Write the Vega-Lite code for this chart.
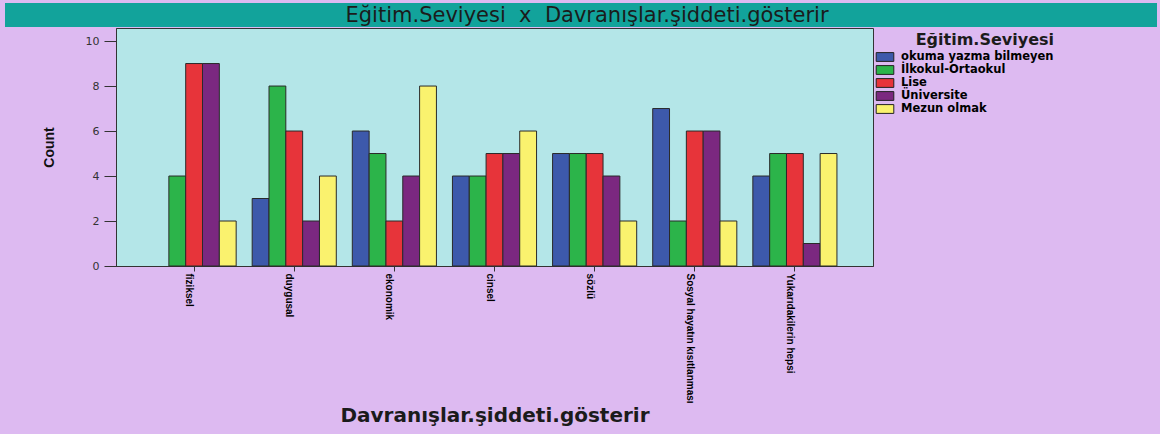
{
  "$schema": "https://vega.github.io/schema/vega-lite/v6.json",
  "background": "#ddbaf1",
  "padding": {"left": 5, "top": 3, "right": 3, "bottom": 12},
  "columns": 1,
  "align": "none",
  "bounds": "full",
  "spacing": 0,
  "resolve": {"scale": {"color": "independent"}, "legend": {"color": "independent"}},
  "config": {
    "axis": {"domainColor": "#333333", "tickColor": "#333333", "grid": false}
  },
  "concat": [
    {
      "width": 1152,
      "height": 24,
      "view": {"fill": "#12a39b", "stroke": null},
      "data": {"values": [{"baslik": "Eğitim.Seviyesi\u00a0\u00a0x\u00a0\u00a0Davranışlar.şiddeti.gösterir"}]},
      "mark": {"type": "text", "font": "DejaVu Sans", "fontSize": 21, "color": "#1b1b1b", "baseline": "middle", "align": "center", "dx": 6, "dy": 1},
      "encoding": {"text": {"field": "baslik", "type": "nominal"}}
    },
    {
      "columns": 2,
      "align": "none",
      "bounds": "full",
      "spacing": 0,
      "resolve": {"scale": {"color": "independent"}, "legend": {"color": "independent"}},
      "concat": [
        {
          "width": 36,
          "height": 238,
          "view": {"fill": null, "stroke": null},
          "data": {"values": []},
          "mark": {"type": "text"},
          "encoding": {}
        },
        {
          "width": 757,
          "height": 238,
          "view": {"fill": "#b4e6e8", "stroke": "#333333"},
          "data": {
            "values": [
              {"davranis": "fiziksel", "egitim": "İlkokul-Ortaokul", "sayi": 4},
              {"davranis": "fiziksel", "egitim": "Lise", "sayi": 9},
              {"davranis": "fiziksel", "egitim": "Üniversite", "sayi": 9},
              {"davranis": "fiziksel", "egitim": "Mezun olmak", "sayi": 2},
              {"davranis": "duygusal", "egitim": "okuma yazma bilmeyen", "sayi": 3},
              {"davranis": "duygusal", "egitim": "İlkokul-Ortaokul", "sayi": 8},
              {"davranis": "duygusal", "egitim": "Lise", "sayi": 6},
              {"davranis": "duygusal", "egitim": "Üniversite", "sayi": 2},
              {"davranis": "duygusal", "egitim": "Mezun olmak", "sayi": 4},
              {"davranis": "ekonomik", "egitim": "okuma yazma bilmeyen", "sayi": 6},
              {"davranis": "ekonomik", "egitim": "İlkokul-Ortaokul", "sayi": 5},
              {"davranis": "ekonomik", "egitim": "Lise", "sayi": 2},
              {"davranis": "ekonomik", "egitim": "Üniversite", "sayi": 4},
              {"davranis": "ekonomik", "egitim": "Mezun olmak", "sayi": 8},
              {"davranis": "cinsel", "egitim": "okuma yazma bilmeyen", "sayi": 4},
              {"davranis": "cinsel", "egitim": "İlkokul-Ortaokul", "sayi": 4},
              {"davranis": "cinsel", "egitim": "Lise", "sayi": 5},
              {"davranis": "cinsel", "egitim": "Üniversite", "sayi": 5},
              {"davranis": "cinsel", "egitim": "Mezun olmak", "sayi": 6},
              {"davranis": "sözlü", "egitim": "okuma yazma bilmeyen", "sayi": 5},
              {"davranis": "sözlü", "egitim": "İlkokul-Ortaokul", "sayi": 5},
              {"davranis": "sözlü", "egitim": "Lise", "sayi": 5},
              {"davranis": "sözlü", "egitim": "Üniversite", "sayi": 4},
              {"davranis": "sözlü", "egitim": "Mezun olmak", "sayi": 2},
              {"davranis": "Sosyal hayatın kısıtlanması", "egitim": "okuma yazma bilmeyen", "sayi": 7},
              {"davranis": "Sosyal hayatın kısıtlanması", "egitim": "İlkokul-Ortaokul", "sayi": 2},
              {"davranis": "Sosyal hayatın kısıtlanması", "egitim": "Lise", "sayi": 6},
              {"davranis": "Sosyal hayatın kısıtlanması", "egitim": "Üniversite", "sayi": 6},
              {"davranis": "Sosyal hayatın kısıtlanması", "egitim": "Mezun olmak", "sayi": 2},
              {"davranis": "Yukarıdakilerin hepsi", "egitim": "okuma yazma bilmeyen", "sayi": 4},
              {"davranis": "Yukarıdakilerin hepsi", "egitim": "İlkokul-Ortaokul", "sayi": 5},
              {"davranis": "Yukarıdakilerin hepsi", "egitim": "Lise", "sayi": 5},
              {"davranis": "Yukarıdakilerin hepsi", "egitim": "Üniversite", "sayi": 1},
              {"davranis": "Yukarıdakilerin hepsi", "egitim": "Mezun olmak", "sayi": 5}
            ]
          },
          "mark": {"type": "bar", "stroke": "#2a2a2a", "strokeWidth": 1},
          "encoding": {
            "x": {
              "field": "davranis",
              "type": "nominal",
              "sort": ["fiziksel", "duygusal", "ekonomik", "cinsel", "sözlü", "Sosyal hayatın kısıtlanması", "Yukarıdakilerin hepsi"],
              "scale": {"paddingInner": 0.16, "paddingOuter": 0.36},
              "axis": {
                "title": "Davranışlar.şiddeti.gösterir",
                "titleFont": "DejaVu Sans",
                "titleFontSize": 20,
                "titleFontWeight": "bold",
                "titleColor": "#1b1b1b",
                "titlePadding": 2,
                "labelAngle": 90,
                "labelBaseline": "top",
                "labelAlign": "left",
                "labelFont": "Liberation Sans",
                "labelFontSize": 10,
                "labelFontWeight": "bold",
                "labelColor": "#000000",
                "labelPadding": 2,
                "labelLimit": 400,
                "labelOverlap": false,
                "tickSize": 5
              }
            },
            "xOffset": {
              "field": "egitim",
              "type": "nominal",
              "scale": {"domain": ["okuma yazma bilmeyen", "İlkokul-Ortaokul", "Lise", "Üniversite", "Mezun olmak"], "paddingInner": 0, "paddingOuter": 0}
            },
            "y": {
              "field": "sayi",
              "type": "quantitative",
              "scale": {"domain": [0, 10.58], "nice": false},
              "axis": {
                "title": "Count",
                "titleFont": "Liberation Sans",
                "titleFontSize": 14,
                "titleFontWeight": "bold",
                "titleColor": "#111111",
                "titlePadding": 29,
                "values": [0, 2, 4, 6, 8, 10],
                "labelFont": "DejaVu Sans",
                "labelFontSize": 11,
                "labelColor": "#333333",
                "labelPadding": 5,
                "tickSize": 12
              }
            },
            "color": {
              "field": "egitim",
              "type": "nominal",
              "scale": {
                "domain": ["okuma yazma bilmeyen", "İlkokul-Ortaokul", "Lise", "Üniversite", "Mezun olmak"],
                "range": ["#3d59ab", "#2cb44a", "#e7343a", "#7b2880", "#faf26e"]
              },
              "legend": {
                "title": "Eğitim.Seviyesi",
                "titleFont": "DejaVu Sans",
                "titleFontSize": 16,
                "titleFontWeight": "bold",
                "titleColor": "#1b1b1b",
                "titleAnchor": "end",
                "titlePadding": 3,
                "labelFont": "DejaVu Sans",
                "labelFontWeight": "bold",
                "labelFontSize": 11.5,
                "labelColor": "#000000",
                "labelOffset": 10,
                "labelLimit": 400,
                "symbolType": "M-1.6,-0.8H1.6V0.8H-1.6Z",
                "symbolSize": 121,
                "symbolStrokeColor": "#222222",
                "symbolStrokeWidth": 1,
                "symbolOpacity": 1,
                "rowPadding": -2,
                "padding": 4,
                "offset": 2
              }
            }
          }
        }
      ]
    }
  ]
}
